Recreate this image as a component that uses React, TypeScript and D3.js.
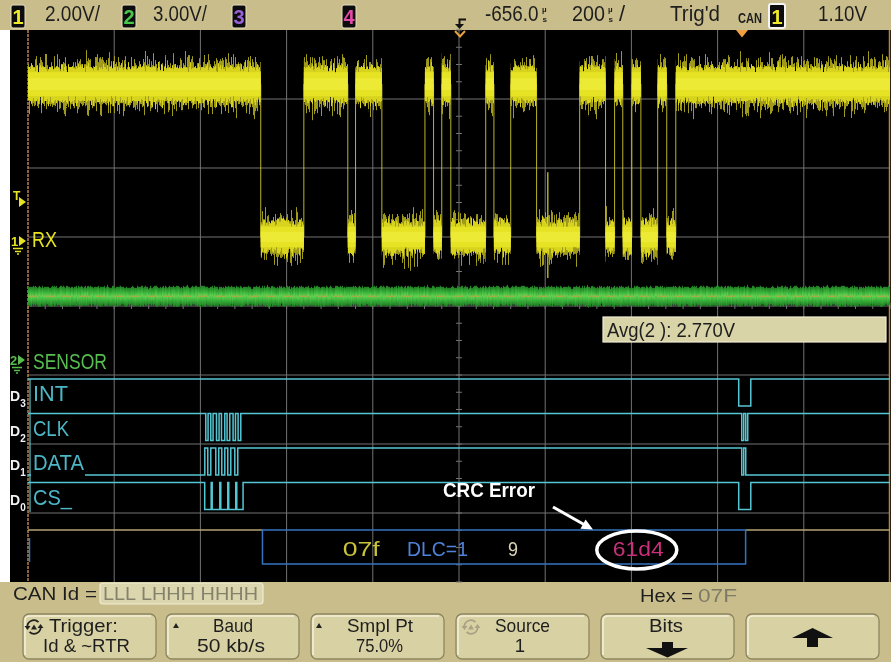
import React from 'react';
import * as d3 from 'd3';

// ---------------- data ----------------
const timeDomainUs = [-1656, 344]; // left..right edge of screen, µs relative to trigger
const timeDivUs = 200;
const ch1VoltsPerDiv = 2;
const ch2VoltsPerDiv = 3;
const rxHighV = 4.43;
const rxLowV = 0;
// RX (channel 1) edges, µs; starts high (recessive)
const rxEdgesUs = [-1116, -1016, -914, -896, -835, -735, -715, -696, -675, -594, -575, -536, -476, -376, -316, -295, -276, -255, -234, -195, -174, -153];
const rxGlitchUs = -450;
const rxGlitchV = [1.88, -1.19];
const sensorAvgV = 2.77;
// digital channels
const digitalNames = ['INT', 'CLK', 'DATA', 'CS_'];
const digitalBits = ['3', '2', '1', '0'];
const digitalInitial = [1, 1, 0, 1];
const intEdgesUs = [-7, 21];
const clkEdgesUs = [-1243.5, -1238.2, -1231.9, -1226.6, -1218.7, -1212.7, -1207.1, -1199.4, -1194.1, -1187.8, -1180.2, -1174.6, -1168.5, -1162.3, 0, 4.6, 9.3, 13.9];
const dataEdgesUs = [-1245.8, -1238.9, -1231.9, -1220.3, -1213.4, -1206.4, -1199.4, -1192.5, -1185.5, -1176.2, -1169.3, 0, 4.6, 9.3];
const csEdgesUs = [-1246, -1231, -1228.6, -1211, -1208.7, -1192.5, -1190.2, -1174, -1171.6, -1157, -7, 21];
// CAN decode
const canFrameUs = [-1112, 9];
const canFields = ['07f', 'DLC=1', '9', '61d4'];
const canFieldCenterUs = [-883, -706, -531, -240];
// texts
const ch1Scale = '2.00V/';
const ch2Scale = '3.00V/';
const delayText = '-656.0';
const timebaseText = '200';
const trigStatus = "Trig'd";
const trigLevel = '1.10V';
const avgText = 'Avg(2 ): 2.770V';
const canIdBits = 'LLL LHHH HHHH';
const hexValue = '07F';
const softkeys = [
  ['Trigger:', 'Id & ~RTR'],
  ['Baud', '50 kb/s'],
  ['Smpl Pt', '75.0%'],
  ['Source', '1'],
  ['Bits', ''],
  ['', ''],
];

// ---------------- styles ----------------
const FONT = "'Liberation Sans', Arial, Helvetica, sans-serif";
const BEIGE = '#c9be8b';
const DARK = '#1e1e1e';
const CYAN = '#55c6d4';
const CYAN_TXT = '#4cb6c6';
const GRID = '#727272';
const YEL = '#e6e324';

function T(props: any) {
  const { x, y, w, s = 20, c = DARK, a = 'start', b = false, children } = props;
  return (
    <text x={x} y={y} fontSize={s} fill={c} textAnchor={a} fontWeight={b ? 'bold' : 'normal'}
      fontFamily={FONT} textLength={w} lengthAdjust="spacingAndGlyphs">{children}</text>
  );
}

// condensed text via transform (keeps bounding box honest)
function TS(props: any) {
  const { x, y, sx, s = 22, c = DARK, children } = props;
  return (
    <text transform={`translate(${x},${y}) scale(${sx},1)`} fontSize={s} fill={c} fontFamily={FONT}>{children}</text>
  );
}

function ChBox(props: any) {
  const { x, y = 5, w = 14, h = 23, c, label, border = '#e6dfbf', bw = 1 } = props;
  return (
    <g>
      <rect x={x} y={y} width={w} height={h} rx={2} fill="#0c0c0c" stroke={border} strokeWidth={bw} />
      <text x={x + w / 2} y={y + h - 4} fontSize={20} fontWeight="bold" fill={c} textAnchor="middle" fontFamily={FONT}>{label}</text>
    </g>
  );
}

function MicroSec(props: any) {
  const { x } = props;
  return (
    <g fontWeight="bold" fontFamily={FONT} fill={DARK}>
      <text x={x} y={12} fontSize={8}>µ</text>
      <text x={x + 0.5} y={22} fontSize={8}>s</text>
    </g>
  );
}

function Button(props: any) {
  const { x } = props;
  const y = 614, w = 133, h = 45;
  return (
    <g>
      <rect x={x} y={y} width={w} height={h} rx={6} fill="#d8d1a3" stroke="#8d8560" strokeWidth={1.3} />
      <path d={`M${x + 2} ${y + h - 4} V${y + 7} Q${x + 2} ${y + 2} ${x + 7} ${y + 2} H${x + w - 5}`} fill="none" stroke="#f3efd8" strokeWidth={1.6} />
    </g>
  );
}

function CycleIcon(props: any) {
  const { cx, cy, c } = props;
  return (
    <g stroke={c} fill="none" strokeWidth={1.8}>
      <path d={`M${cx - 6.5} ${cy + 1} A6.5 6.5 0 0 1 ${cx + 4.5} ${cy - 4.8}`} />
      <path d={`M${cx + 6.5} ${cy - 1} A6.5 6.5 0 0 1 ${cx - 4.5} ${cy + 4.8}`} />
      <polygon points={`${cx - 9.5},${cy - 1} ${cx - 3.5},${cy - 1} ${cx - 6.5},${cy + 3}`} fill={c} stroke="none" />
      <polygon points={`${cx + 9.5},${cy + 1} ${cx + 3.5},${cy + 1} ${cx + 6.5},${cy - 3}`} fill={c} stroke="none" />
      <polygon points={`${cx - 3},${cy + 2.5} ${cx + 3},${cy + 2.5} ${cx},${cy - 2.5}`} fill={c} stroke="none" />
    </g>
  );
}

function NoiseFilter(props: any) {
  const { id, fx, fy, seed, scale, y, h } = props;
  return (
    <filter id={id} filterUnits="userSpaceOnUse" x="0" y={y} width="891" height={h} colorInterpolationFilters="sRGB">
      <feTurbulence type="fractalNoise" baseFrequency={`${fx} ${fy}`} numOctaves="2" seed={seed} result="n" />
      <feColorMatrix in="n" type="matrix" values="0 0 0 0 0.5  0 1 0 0 0  0 0 0 0 0  0 0 0 0 1" result="m" />
      <feDisplacementMap in="SourceGraphic" in2="m" scale={scale} xChannelSelector="R" yChannelSelector="G" />
    </filter>
  );
}

export default function App() {
  const x = d3.scaleLinear().domain(timeDomainUs).range([28, 890]);
  const gridY = d3.scaleLinear().domain([0, 8]).range([30, 582]);
  const y1 = d3.scaleLinear().domain([0, ch1VoltsPerDiv]).range([gridY(3), gridY(2)]);
  const y2 = d3.scaleLinear().domain([0, ch2VoltsPerDiv]).range([360, 291]);
  const lane = d3.scaleBand<string>().domain(digitalNames).range([gridY(5), gridY(7)]);

  const vGrid = d3.range(11).map((i) => x(timeDomainUs[0] + i * timeDivUs));
  const hGrid = d3.range(9).map((i) => gridY(i));
  const centerX = x(timeDomainUs[0] + 5 * timeDivUs);
  const centerY = gridY(4);
  const minorY = d3.range(0, 33).map((i) => gridY(i / 4));
  const minorX = d3.range(0, 51).map((i) => x(timeDomainUs[0] + (i * timeDivUs) / 5));

  // RX segments
  const rxSeg: [number, number, number][] = [];
  let lvl = 1;
  let t0 = timeDomainUs[0];
  rxEdgesUs.forEach((e) => {
    rxSeg.push([t0, e, lvl]);
    t0 = e;
    lvl = 1 - lvl;
  });
  rxSeg.push([t0, timeDomainUs[1], lvl]);
  const rxY = (l: number) => y1(l ? rxHighV : rxLowV);
  const half = (l: number) => (l ? 1 : 0.85);

  // Digital paths
  const edgesByCh = [intEdgesUs, clkEdgesUs, dataEdgesUs, csEdgesUs];
  const stepLine = d3.line<[number, number]>().curve(d3.curveStepAfter);
  const digitalPaths = digitalNames.map((name, i) => {
    const top = lane(name) as number;
    const yl = (v: number) => (v ? top + 4 : top + 31);
    let v = digitalInitial[i];
    const pts: [number, number][] = [[x(timeDomainUs[0]), yl(v)]];
    edgesByCh[i].forEach((e) => {
      v = 1 - v;
      pts.push([x(e), yl(v)]);
    });
    pts.push([x(timeDomainUs[1]), yl(v)]);
    return stepLine(pts) as string;
  });
  const labelW = [35, 36, 51, 39];

  const sensorY = y2(sensorAvgV);
  const fieldW = [37, 61, 10, 51];
  const fieldC = ['#c9c23a', '#4f82d8', '#d9d2b4', '#c8307a'];
  const frameX0 = x(canFrameUs[0]);
  const frameX1 = x(canFrameUs[1]);
  const btnX = [23, 166, 311, 456, 601, 746];
  const KS = 18.5; // softkey font size

  const rxRects = (h: number, fill: string, key: string, op = 1) =>
    rxSeg.map((s, i) => (
      <rect key={key + i} x={x(s[0])} y={rxY(s[2]) - h * half(s[2])} width={x(s[1]) - x(s[0])}
        height={2 * h * half(s[2])} fill={fill} opacity={op} />
    ));

  return (
    <div style={{ position: 'absolute', left: 0, top: 0 }}>
      <svg width={891} height={662} viewBox="0 0 891 662" style={{ display: 'block' }}>
        <defs>
          <NoiseFilter id="nzA" fx={0.75} fy={0.02} seed={3} scale={48} y={20} h={300} />
          <NoiseFilter id="nzB" fx={0.6} fy={0.03} seed={11} scale={22} y={20} h={300} />
          <NoiseFilter id="nzG" fx={0.8} fy={0.05} seed={5} scale={5} y={260} h={80} />
          <linearGradient id="gGreen" x1="0" y1="0" x2="0" y2="1">
            <stop offset="0" stopColor="#1f7a22" />
            <stop offset="0.3" stopColor="#3bb43b" />
            <stop offset="0.5" stopColor="#62cf52" />
            <stop offset="0.7" stopColor="#3bb43b" />
            <stop offset="1" stopColor="#1f7a22" />
          </linearGradient>
        </defs>

        {/* frame */}
        <rect x={0} y={0} width={891} height={662} fill={BEIGE} />
        <rect x={0} y={30} width={10} height={552} fill="#ffffff" />
        <rect x={10} y={30} width={881} height={552} fill="#000000" />

        {/* grid */}
        <g stroke={GRID} strokeWidth={1}>
          {vGrid.slice(1, 10).map((gx, i) => (
            <line key={'v' + i} x1={gx} x2={gx} y1={30} y2={582} />
          ))}
          {hGrid.slice(1, 8).map((gy, i) => (
            <line key={'h' + i} x1={28} x2={890} y1={gy} y2={gy} />
          ))}
          {minorY.map((my, i) => (
            <line key={'my' + i} x1={centerX - 3} x2={centerX + 3} y1={my} y2={my} />
          ))}
          {minorX.map((mx, i) => (
            <line key={'mx' + i} x1={mx} x2={mx} y1={centerY - 3} y2={centerY + 3} />
          ))}
        </g>
        <line x1={28} x2={28} y1={30} y2={582} stroke="#b07a44" strokeWidth={1.6} strokeDasharray="3 1" />
        <line x1={889.5} x2={889.5} y1={30} y2={582} stroke="#c08040" strokeWidth={1.5} />

        {/* sensor (channel 2) */}
        <g filter="url(#nzG)">
          <rect x={28} y={sensorY - 9.5} width={862} height={19} fill="url(#gGreen)" />
        </g>
        <line x1={28} x2={890} y1={sensorY} y2={sensorY} stroke="#d09a40" strokeWidth={1.5} strokeDasharray="10 7" opacity={0.6} />

        {/* RX (channel 1) */}
        <g stroke="#cfc92a" strokeWidth={1} opacity={0.9}>
          {rxEdgesUs.map((e, i) => (
            <line key={i} x1={x(e)} x2={x(e)} y1={rxY(1)} y2={rxY(0)} />
          ))}
        </g>
        <line x1={x(rxGlitchUs)} x2={x(rxGlitchUs)} y1={y1(rxGlitchV[0])} y2={y1(rxGlitchV[1])} stroke="#cfc92a" strokeWidth={1.5} opacity={0.85} />
        <g filter="url(#nzA)">{rxRects(21, '#a9a21c', 'a', 0.95)}</g>
        <g filter="url(#nzB)">{rxRects(17, '#d8d41e', 'b')}</g>
        <g>{rxRects(12, YEL, 'c')}</g>
        <g>{rxRects(6, '#eeeb3a', 'd', 0.8)}</g>

        {/* left markers */}
        <g fill={YEL} fontFamily={FONT}>
          <text x={13} y={200} fontSize={12} fontWeight="bold">T</text>
          <polygon points="19,197 26,202 19,207" />
          <text x={11} y={246} fontSize={13} fontWeight="bold">1</text>
          <polygon points="19,236 26,241 19,246" />
          <g stroke={YEL} strokeWidth={1.5}>
            <line x1={13} x2={23} y1={248.5} y2={248.5} />
            <line x1={15} x2={21} y1={251.5} y2={251.5} />
            <line x1={17} x2={19} y1={254} y2={254} />
          </g>
        </g>
        <T x={32} y={247} w={25} s={22} c={YEL}>RX</T>
        <g fill="#56bd4e" fontFamily={FONT}>
          <text x={10} y={365} fontSize={13} fontWeight="bold">2</text>
          <polygon points="18,355 25,360 18,365" />
          <g stroke="#56bd4e" strokeWidth={1.5}>
            <line x1={12} x2={22} y1={367.5} y2={367.5} />
            <line x1={14} x2={20} y1={370.5} y2={370.5} />
            <line x1={16} x2={18} y1={373} y2={373} />
          </g>
        </g>
        <T x={33} y={369} w={74} s={22} c="#56bd4e">SENSOR</T>

        {/* avg measurement box */}
        <rect x={603} y={317} width={283} height={25} fill="#d9d3a8" stroke="#f0ecd4" strokeWidth={1.2} />
        <T x={607} y={337} w={128} s={20}>{avgText}</T>

        {/* digital channels */}
        {digitalPaths.map((p, i) => (
          <path key={i} d={p} fill="none" stroke={CYAN} strokeWidth={1.5} />
        ))}
        <line x1={30} x2={30} y1={379} y2={512} stroke={CYAN} strokeWidth={1.2} />
        {digitalNames.map((name, i) => {
          const top = lane(name) as number;
          return (
            <g key={name}>
              <rect x={31} y={top + 8} width={i === 2 ? 54 : labelW[i] + 2} height={24} fill="#000" />
              <T x={33} y={top + 26} w={labelW[i]} s={22} c={CYAN_TXT}>{name}</T>
              <text x={10} y={top + 26} fontSize={14} fontWeight="bold" fill="#f2f2f2" fontFamily={FONT}>
                D<tspan fontSize={10} dy={6}>{digitalBits[i]}</tspan>
              </text>
            </g>
          );
        })}

        {/* CAN decode row */}
        <line x1={28} x2={frameX0} y1={530} y2={530} stroke="#b4a472" strokeWidth={1.5} />
        <line x1={frameX1} x2={890} y1={530} y2={530} stroke="#b4a472" strokeWidth={1.5} />
        <line x1={29.5} x2={29.5} y1={538} y2={562} stroke="#3a78c4" strokeWidth={1.5} />
        <rect x={frameX0} y={530} width={frameX1 - frameX0} height={34} fill="none" stroke="#3573c0" strokeWidth={1.5} />
        {canFields.map((f, i) => (
          <T key={f} x={x(canFieldCenterUs[i])} y={556} w={fieldW[i]} s={20} c={fieldC[i]} a="middle">{f}</T>
        ))}
        <ellipse cx={x(canFieldCenterUs[3]) - 1.5} cy={550} rx={40} ry={19} fill="none" stroke="#ffffff" strokeWidth={3.5} />
        <T x={443} y={497} w={92} s={21} c="#ffffff" b>CRC Error</T>
        <line x1={553} y1={507} x2={584} y2={524.5} stroke="#ffffff" strokeWidth={3} />
        <polygon points="593,529.5 580.5,528.8 585.6,519.6" fill="#ffffff" />

        {/* top status bar */}
        <ChBox x={11} c="#f0ec2a" label="1" />
        <T x={45} y={21} w={55} s={22}>{ch1Scale}</T>
        <ChBox x={122} c="#48c84a" label="2" />
        <T x={153} y={21} w={54} s={22}>{ch2Scale}</T>
        <ChBox x={232} c="#9a62d8" label="3" />
        <ChBox x={342} c="#e44aa8" label="4" />
        <path d="M466 19.5 H459.5 V25" fill="none" stroke="#111" strokeWidth={2} />
        <polygon points="455,24 464,24 459.5,29" fill="#111" />
        <polyline points="455,31 460,36.5 465,31" fill="none" stroke="#e8a040" strokeWidth={2} />
        <polygon points="736,30 748,30 742,37.5" fill="#f0a040" />
        <TS x={485} y={21} sx={0.86}>{delayText}</TS>
        <MicroSec x={542} />
        <TS x={572} y={21} sx={0.9}>{timebaseText}</TS>
        <MicroSec x={608} />
        <T x={619} y={21} s={22}>/</T>
        <T x={670} y={21} w={50} s={22}>{trigStatus}</T>
        <T x={738} y={23} w={24} s={14} b>CAN</T>
        <ChBox x={769} y={4} w={16} h={24} c="#f0ec2a" label="1" border="#f4f4f4" bw={2} />
        <T x={818} y={21} w={49} s={22}>{trigLevel}</T>

        {/* bottom info line */}
        <T x={13} y={600} w={84} s={19}>CAN Id =</T>
        <rect x={100} y={583} width={163} height={21} rx={3} fill="#dcd6ae" stroke="#efebd3" strokeWidth={1.2} />
        <T x={103} y={600} w={155} s={19} c="#85826c">{canIdBits}</T>
        <T x={640} y={602} w={53} s={19}>Hex =</T>
        <T x={698} y={602} w={39} s={19} c="#7d7a66">{hexValue}</T>

        {/* softkeys */}
        {btnX.map((bx, i) => (
          <Button key={i} x={bx} />
        ))}
        <CycleIcon cx={34} cy={627} c="#222" />
        <T x={49} y={632} w={69} s={KS}>{softkeys[0][0]}</T>
        <T x={43} y={652} w={87} s={KS}>{softkeys[0][1]}</T>
        <polygon points="173,628 179,628 176,623" fill="#222" />
        <T x={213} y={632} w={40} s={KS}>{softkeys[1][0]}</T>
        <T x={197} y={652} w={68} s={KS}>{softkeys[1][1]}</T>
        <polygon points="316,628 322,628 319,623" fill="#222" />
        <T x={347} y={632} w={66} s={KS}>{softkeys[2][0]}</T>
        <T x={356} y={652} w={47} s={KS}>{softkeys[2][1]}</T>
        <CycleIcon cx={471} cy={627} c="#aaa284" />
        <T x={495} y={632} w={55} s={KS}>{softkeys[3][0]}</T>
        <T x={520} y={652} s={KS} a="middle">{softkeys[3][1]}</T>
        <T x={649} y={632} w={34} s={KS}>{softkeys[4][0]}</T>
        <polygon points="662,642 673,642 673,648 688,648 667.5,657.5 646,648 662,648" fill="#111" />
        <polygon points="812.5,628 833,638 818,638 818,647 807,647 807,638 792,638" fill="#111" />
      </svg>
    </div>
  );
}
